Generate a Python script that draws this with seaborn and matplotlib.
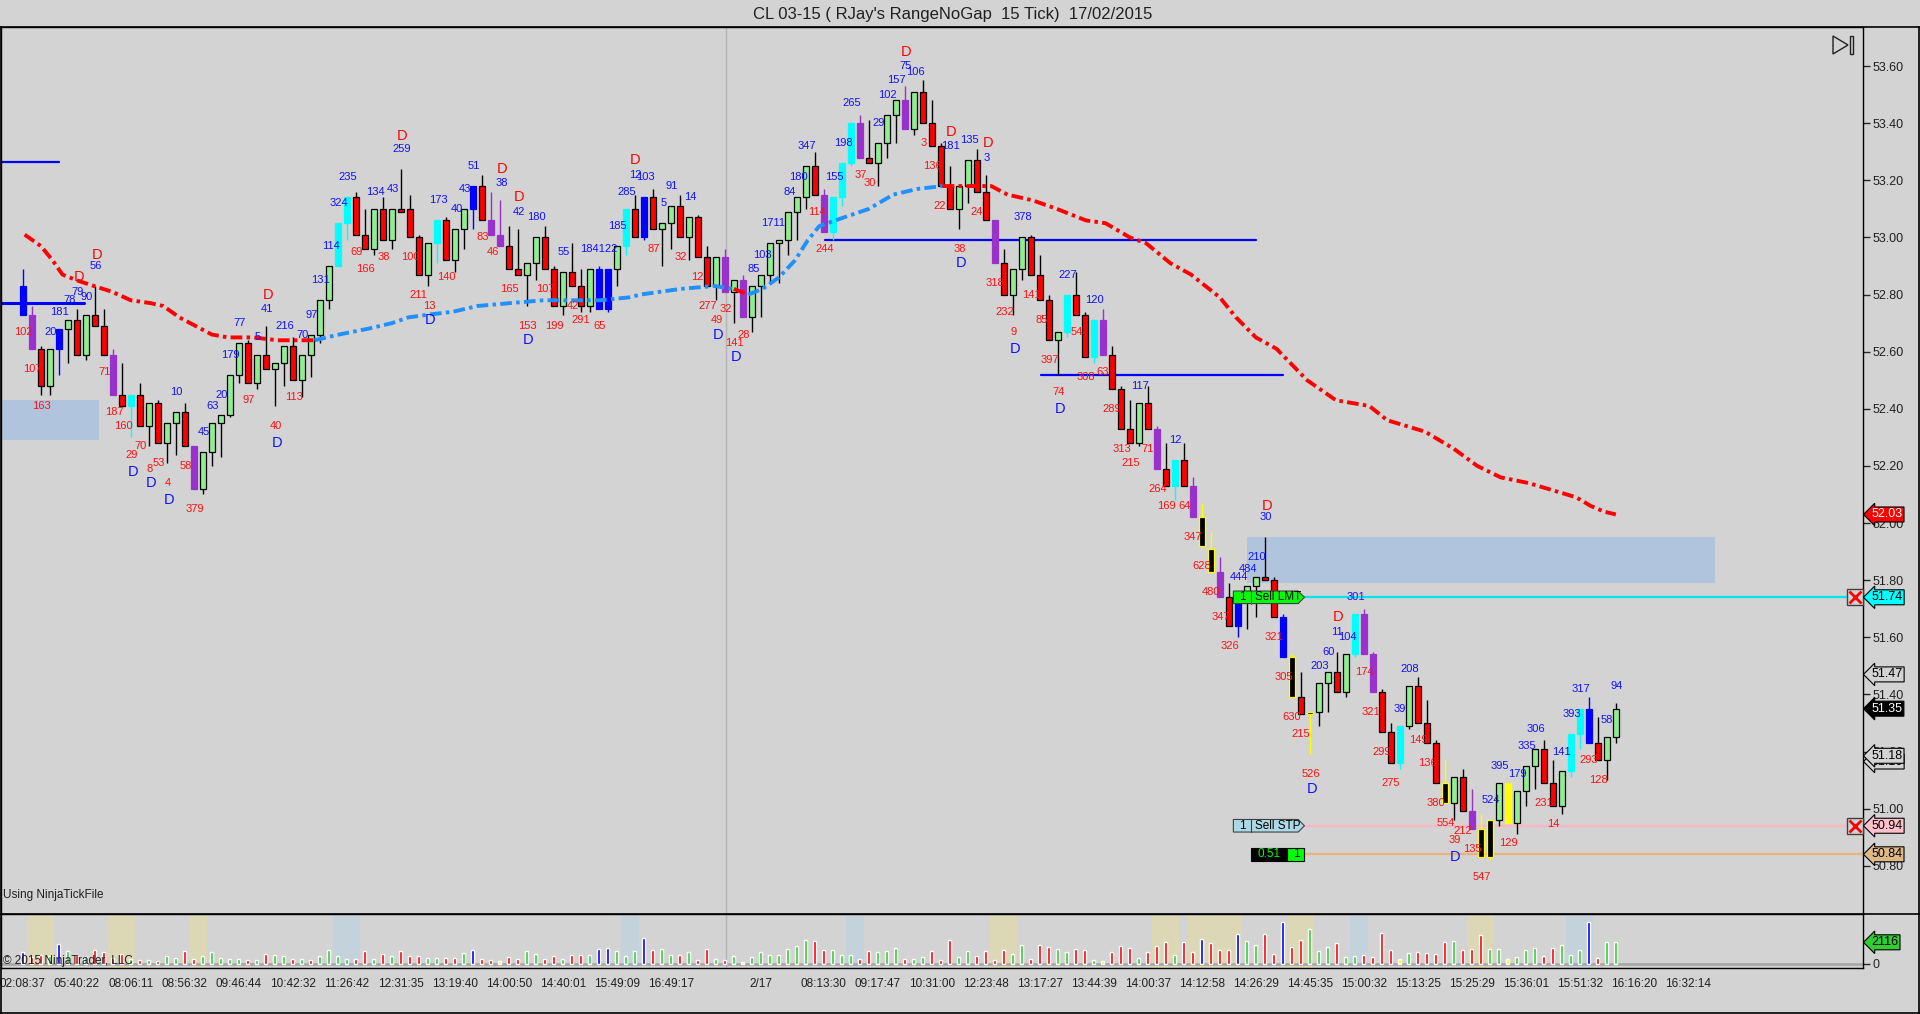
import numpy as np
import matplotlib
matplotlib.use("Agg")
import matplotlib.pyplot as plt
import matplotlib.transforms as mtransforms
from matplotlib.patches import Rectangle, Polygon
from matplotlib.lines import Line2D
import seaborn as sns

# ---- range bars (CL 03-15, 15 tick range) ----
opens = [52.83, 52.73, 52.61, 52.48, 52.61, 52.68, 52.71, 52.59, 52.73, 52.69,
         52.59, 52.45, 52.41, 52.45, 52.34, 52.42, 52.28, 52.35, 52.39, 52.27,
         52.12, 52.25, 52.35, 52.38, 52.52, 52.63, 52.49, 52.59, 52.54, 52.56,
         52.62, 52.50, 52.59, 52.66, 52.78, 52.90, 53.05, 53.14, 53.01, 52.96,
         53.10, 52.99, 53.10, 53.10, 53.00, 52.87, 52.98, 53.06, 52.92, 53.03,
         53.10, 53.18, 53.06, 53.01, 52.97, 52.89, 52.87, 52.91, 53.00, 52.89,
         52.76, 52.88, 52.83, 52.76, 52.89, 52.75, 52.89, 52.97, 53.10, 53.00,
         53.14, 53.03, 53.05, 53.11, 53.00, 53.07, 52.93, 52.83, 52.93, 52.81,
         52.85, 52.72, 52.83, 52.87, 52.98, 52.99, 53.09, 53.14, 53.25, 53.15,
         53.02, 53.14, 53.26, 53.40, 53.28, 53.26, 53.33, 53.43, 53.48, 53.38,
         53.51, 53.40, 53.32, 53.18, 53.10, 53.18, 53.27, 53.16, 53.06, 52.91,
         52.80, 52.89, 53.00, 52.87, 52.78, 52.64, 52.67, 52.80, 52.73, 52.58,
         52.71, 52.59, 52.47, 52.33, 52.28, 52.42, 52.33, 52.19, 52.13, 52.22,
         52.13, 52.02, 51.91, 51.83, 51.74, 51.64, 51.74, 51.78, 51.81, 51.80,
         51.67, 51.53, 51.39, 51.33, 51.34, 51.44, 51.48, 51.41, 51.54, 51.68,
         51.54, 51.41, 51.27, 51.16, 51.29, 51.43, 51.30, 51.23, 51.09, 51.02,
         51.11, 50.99, 50.93, 50.83, 50.96, 51.09, 50.95, 51.06, 51.15, 51.21,
         51.09, 51.01, 51.13, 51.26, 51.35, 51.23, 51.17, 51.25]
highs = [52.89, 52.76, 52.62, 52.61, 52.68, 52.71, 52.75, 52.73, 52.83, 52.75,
         52.61, 52.56, 52.45, 52.49, 52.42, 52.43, 52.35, 52.39, 52.42, 52.27,
         52.25, 52.35, 52.38, 52.52, 52.63, 52.64, 52.59, 52.69, 52.56, 52.62,
         52.65, 52.59, 52.66, 52.78, 52.90, 53.05, 53.14, 53.16, 53.10, 53.10,
         53.14, 53.10, 53.24, 53.15, 53.01, 52.98, 53.06, 53.07, 53.03, 53.10,
         53.18, 53.22, 53.16, 53.13, 53.04, 53.03, 52.91, 53.00, 53.04, 52.90,
         52.88, 52.98, 52.89, 52.89, 52.90, 52.89, 52.97, 53.10, 53.15, 53.14,
         53.17, 53.05, 53.11, 53.15, 53.07, 53.08, 52.97, 52.93, 52.96, 52.85,
         52.87, 52.83, 52.87, 52.98, 52.99, 53.09, 53.14, 53.25, 53.30, 53.17,
         53.14, 53.26, 53.40, 53.43, 53.41, 53.33, 53.43, 53.48, 53.53, 53.51,
         53.55, 53.48, 53.33, 53.25, 53.18, 53.27, 53.31, 53.22, 53.06, 52.96,
         52.89, 53.00, 53.01, 52.94, 52.80, 52.67, 52.80, 52.88, 52.74, 52.71,
         52.75, 52.62, 52.48, 52.43, 52.42, 52.48, 52.34, 52.28, 52.22, 52.28,
         52.16, 52.07, 51.97, 51.88, 51.79, 51.74, 51.78, 51.81, 51.95, 51.81,
         51.68, 51.54, 51.48, 51.34, 51.44, 51.48, 51.55, 51.54, 51.68, 51.70,
         51.55, 51.42, 51.30, 51.29, 51.43, 51.46, 51.38, 51.24, 51.17, 51.11,
         51.14, 51.07, 50.98, 50.96, 51.09, 51.09, 51.06, 51.15, 51.21, 51.24,
         51.17, 51.13, 51.26, 51.35, 51.39, 51.32, 51.25, 51.37]
lows = [52.73, 52.61, 52.45, 52.45, 52.52, 52.56, 52.59, 52.57, 52.69, 52.59,
        52.45, 52.41, 52.30, 52.34, 52.27, 52.28, 52.21, 52.24, 52.27, 52.12,
        52.10, 52.20, 52.23, 52.37, 52.49, 52.49, 52.47, 52.54, 52.41, 52.48,
        52.50, 52.44, 52.51, 52.63, 52.75, 52.90, 52.99, 53.01, 52.96, 52.94,
        52.99, 52.96, 53.09, 53.00, 52.87, 52.83, 52.91, 52.92, 52.88, 52.96,
        53.03, 53.06, 53.01, 52.97, 52.89, 52.87, 52.76, 52.85, 52.89, 52.76,
        52.73, 52.83, 52.74, 52.74, 52.75, 52.74, 52.83, 52.94, 53.00, 52.99,
        53.03, 52.90, 52.96, 53.00, 52.92, 52.93, 52.83, 52.78, 52.81, 52.70,
        52.72, 52.67, 52.72, 52.84, 52.84, 52.94, 52.99, 53.10, 53.15, 53.02,
        52.99, 53.11, 53.25, 53.28, 53.26, 53.18, 53.28, 53.33, 53.38, 53.36,
        53.40, 53.32, 53.18, 53.10, 53.03, 53.12, 53.16, 53.06, 52.91, 52.80,
        52.73, 52.85, 52.87, 52.78, 52.64, 52.52, 52.65, 52.73, 52.58, 52.56,
        52.59, 52.47, 52.33, 52.28, 52.27, 52.33, 52.19, 52.13, 52.08, 52.13,
        52.02, 51.92, 51.83, 51.74, 51.64, 51.60, 51.63, 51.67, 51.80, 51.67,
        51.53, 51.39, 51.33, 51.19, 51.29, 51.34, 51.41, 51.39, 51.53, 51.54,
        51.41, 51.27, 51.16, 51.14, 51.28, 51.30, 51.23, 51.09, 51.02, 50.96,
        50.99, 50.93, 50.83, 50.82, 50.94, 50.95, 50.91, 51.01, 51.07, 51.09,
        51.01, 50.98, 51.11, 51.21, 51.23, 51.17, 51.10, 51.23]
closes = [52.73, 52.61, 52.48, 52.61, 52.68, 52.71, 52.59, 52.73, 52.69, 52.59,
          52.45, 52.41, 52.45, 52.34, 52.42, 52.28, 52.35, 52.39, 52.27, 52.12,
          52.25, 52.35, 52.38, 52.52, 52.63, 52.49, 52.59, 52.54, 52.56, 52.62,
          52.50, 52.59, 52.66, 52.78, 52.90, 53.05, 53.14, 53.01, 52.96, 53.10,
          52.99, 53.10, 53.09, 53.00, 52.87, 52.98, 53.06, 52.92, 53.03, 53.10,
          53.18, 53.06, 53.01, 52.97, 52.89, 52.87, 52.91, 53.00, 52.89, 52.76,
          52.88, 52.83, 52.76, 52.89, 52.75, 52.89, 52.97, 53.10, 53.00, 53.14,
          53.03, 53.05, 53.11, 53.00, 53.07, 52.93, 52.83, 52.93, 52.81, 52.85,
          52.72, 52.83, 52.87, 52.98, 52.99, 53.09, 53.14, 53.25, 53.15, 53.02,
          53.14, 53.26, 53.40, 53.28, 53.26, 53.33, 53.43, 53.48, 53.38, 53.51,
          53.40, 53.32, 53.18, 53.10, 53.18, 53.27, 53.16, 53.06, 52.91, 52.80,
          52.89, 53.00, 52.87, 52.78, 52.64, 52.67, 52.80, 52.73, 52.58, 52.71,
          52.59, 52.47, 52.33, 52.28, 52.42, 52.33, 52.19, 52.13, 52.22, 52.13,
          52.02, 51.92, 51.83, 51.74, 51.64, 51.74, 51.78, 51.81, 51.80, 51.67,
          51.53, 51.39, 51.33, 51.34, 51.44, 51.48, 51.41, 51.54, 51.68, 51.54,
          51.41, 51.27, 51.16, 51.29, 51.43, 51.30, 51.23, 51.09, 51.02, 51.11,
          50.99, 50.93, 50.83, 50.96, 51.09, 50.95, 51.06, 51.15, 51.21, 51.09,
          51.01, 51.13, 51.26, 51.35, 51.23, 51.17, 51.25, 51.35]
# paint colour of every bar: g up, r down, c/b/p/k/y painted bars
bar_paint = ("bprgbgrgrr" "prcrgrggrp" "gggggrgrgg" "rggggccrrg" "rgrrrgcrgg"
             "brpprrggrr" "grrgbbgcrb" "rggrgrrgpg" "pgggggggrp" "cccprgggpg"
             "rrrrggrrpr" "ggrrrgcrrc" "prrrgrprcr" "pkkprbggrr" "bkrkggrgcp"
             "prrcgrrrkg" "rpkkgygggr" "rgccbrgg")

volumes = [1140, 640, 900, 810, 1980, 1300, 880, 650, 1400, 1200,
           600, 1010, 490, 420, 420, 260, 810, 590, 1240, 520,
           750, 1140, 590, 520, 520, 360, 360, 1010, 910, 750,
           460, 520, 420, 810, 1400, 750, 520, 520, 1240, 520,
           1010, 750, 1240, 750, 750, 590, 550, 590, 590, 1070,
           1400, 520, 360, 330, 650, 520, 1240, 1010, 490, 750,
           460, 910, 910, 910, 1500, 1590, 1300, 750, 1240, 2540,
           1400, 1460, 910, 850, 1140, 420, 1500, 520, 360, 810,
           160, 650, 1140, 910, 910, 1500, 1790, 2370, 2210, 1400,
           1400, 910, 910, 520, 1300, 1140, 1300, 1590, 520, 520,
           650, 1240, 420, 2370, 650, 1240, 810, 1240, 420, 1400,
           1010, 1820, 520, 1890, 1660, 1500, 1140, 1500, 1400, 420,
           330, 1140, 1790, 1590, 620, 1140, 1790, 2180, 910, 2180,
           1140, 2470, 2080, 1400, 1400, 2960, 2280, 1890, 2960, 1010,
           4060, 1690, 2370, 3450, 1300, 1690, 2050, 720, 810, 910,
           720, 3060, 1400, 520, 1110, 1200, 1110, 1010, 2180, 2280,
           1400, 1500, 2860, 1500, 1500, 520, 720, 1400, 1590, 810,
           1590, 1890, 910, 1400, 4130, 620, 2110, 2116]
vol_paint = ("brrgbgrgrr" "rrgrgrggrr" "gggggrgrgg" "rgrggggrrg" "rgrrrggrrg"
             "brryrrggrr" "grrgbbgggb" "rggrgrrgrg" "ygggggggrr" "gggrrgggrg"
             "grrrggrrrr" "ggrrrggrrg" "yrrrgrrrgr" "rbrrrbggrr" "brrgggrggr"
             "rrrygrrrrg" "rrrggygggr" "rgggbrgg")

# shaded bar groups in the volume panel (first bar, last bar, kind)
band_first = [1, 10, 19, 35, 67, 92, 108, 126, 130, 141, 148, 161, 172]
band_last = [3, 12, 20, 37, 68, 93, 110, 128, 135, 143, 149, 163, 174]
band_kind = "yyybbbyyyybyb"

# moving average, read at bar positions; side r = above price, b = below
ma_x = [0.2, 2.0, 3.3, 4.4, 6.0, 7.9, 9.9, 12.0, 14.2, 15.6,
        17.4, 19.2, 21.0, 22.8, 25.6, 28.3, 31.5, 32.4, 35.1, 38.3,
        41.0, 42.8, 45.1, 47.8, 50.5, 54.1, 57.8, 60.9, 64.1, 67.3,
        68.6, 73.1, 76.8, 79.0, 80.6, 82.2, 84.0, 85.8, 87.2, 88.5,
        91.2, 94.0, 96.7, 99.4, 102.2, 104.9, 107.6, 109.4, 112.2, 114.9,
        118.1, 120.3, 123.0, 124.8, 127.5, 129.8, 133.0, 134.8, 137.0, 139.3,
        142.7, 145.9, 149.6, 151.6, 155.8, 159.0, 161.6, 164.2, 167.3, 170.5,
        172.6, 174.2, 175.7, 177.0]
ma_y = [53.01, 52.97, 52.92, 52.87, 52.85, 52.83, 52.81, 52.78, 52.77, 52.76,
        52.72, 52.69, 52.66, 52.65, 52.65, 52.64, 52.64, 52.64, 52.66, 52.68,
        52.70, 52.72, 52.73, 52.74, 52.76, 52.77, 52.78, 52.78, 52.78, 52.79,
        52.80, 52.82, 52.83, 52.82, 52.80, 52.82, 52.86, 52.92, 52.99, 53.04,
        53.07, 53.10, 53.15, 53.17, 53.18, 53.18, 53.18, 53.15, 53.13, 53.10,
        53.06, 53.05, 53.00, 52.98, 52.91, 52.87, 52.79, 52.72, 52.65, 52.61,
        52.50, 52.43, 52.41, 52.36, 52.32, 52.26, 52.20, 52.16, 52.14, 52.11,
        52.09, 52.06, 52.04, 52.03]
ma_side = ("rrrrrrrrrrrrrrrrr" "bbbbbbbbbbbbbbbb" "r" "bbbbbbbbbb"
           "rrrrrrrrrrrrrrrrrrrrrrrrrrrrrr")

# drawn objects
hline_price = [53.265, 52.77, 52.99, 52.52]
hline_from = [-2.5, -2.5, 89.1, 113.1]
hline_to = [4.0, 6.8, 137.0, 140.0]
zone_from = [-2.5, 136.0]
zone_to = [8.5, 188.0]
zone_low = [52.29, 51.79]
zone_high = [52.43, 51.95]
sell_lmt, sell_stp, entry = 51.74, 50.94, 50.84

# swing labels (text, bar position, price)
blue_nums = [("56", 8.1, 52.90), ("79", 6.1, 52.81), ("78", 5.2, 52.78), ("90", 7.1, 52.79),
             ("181", 4.1, 52.74), ("20", 3.1, 52.67), ("77", 24.1, 52.70), ("41", 27.1, 52.75),
             ("5", 26.1, 52.65), ("216", 29.1, 52.69), ("70", 31.1, 52.66), ("179", 23.1, 52.59),
             ("20", 22.1, 52.45), ("63", 21.1, 52.41), ("45", 20.1, 52.32), ("10", 17.1, 52.46),
             ("97", 32.1, 52.73), ("131", 33.1, 52.85), ("114", 34.2, 52.97), ("324", 35.1, 53.12),
             ("235", 36.1, 53.21), ("134", 39.2, 53.16), ("43", 41.1, 53.17), ("259", 42.1, 53.31),
             ("173", 46.2, 53.13), ("40", 48.2, 53.10), ("43", 49.1, 53.17), ("51", 50.1, 53.25),
             ("38", 53.2, 53.19), ("42", 55.1, 53.09), ("180", 57.1, 53.07), ("55", 60.1, 52.95),
             ("184122", 64.0, 52.96), ("185", 66.1, 53.04), ("285", 67.1, 53.16), ("12", 68.0, 53.22),
             ("103", 69.2, 53.21), ("91", 72.1, 53.18), ("5", 71.2, 53.12), ("14", 74.2, 53.14),
             ("85", 81.2, 52.89), ("103", 82.2, 52.94), ("1711", 83.4, 53.05), ("84", 85.2, 53.16),
             ("180", 86.2, 53.21), ("347", 87.1, 53.32), ("155", 90.2, 53.21), ("198", 91.2, 53.33),
             ("265", 92.1, 53.47), ("29", 95.1, 53.40), ("102", 96.1, 53.50), ("157", 97.1, 53.55),
             ("75", 98.1, 53.60), ("106", 99.2, 53.58), ("181", 103.1, 53.32), ("135", 105.2, 53.34),
             ("3", 107.1, 53.28), ("378", 111.1, 53.07), ("227", 116.1, 52.87), ("120", 119.1, 52.78),
             ("117", 124.1, 52.48), ("12", 128.1, 52.29), ("30", 138.1, 52.02), ("210", 137.1, 51.88),
             ("484", 136.1, 51.84), ("444", 135.1, 51.81), ("301", 148.1, 51.74), ("11", 146.0, 51.62),
             ("104", 147.2, 51.60), ("60", 145.1, 51.55), ("203", 144.1, 51.50), ("208", 154.1, 51.49),
             ("39", 153.0, 51.35), ("395", 164.1, 51.15), ("179", 166.1, 51.12), ("524", 163.1, 51.03),
             ("306", 168.1, 51.28), ("335", 167.1, 51.22), ("141", 171.0, 51.20), ("317", 173.1, 51.42),
             ("393", 172.1, 51.33), ("58", 176.0, 51.31), ("94", 177.1, 51.43)]
red_nums = [("102", 0.1, 52.67), ("107", 1.1, 52.54), ("163", 2.1, 52.41), ("71", 9.1, 52.53),
            ("187", 10.2, 52.39), ("160", 11.2, 52.34), ("70", 13.1, 52.27), ("29", 12.1, 52.24),
            ("8", 14.1, 52.19), ("53", 15.1, 52.21), ("4", 16.1, 52.14), ("58", 18.1, 52.20),
            ("379", 19.1, 52.05), ("97", 25.1, 52.43), ("113", 30.1, 52.44), ("40", 28.1, 52.34),
            ("69", 37.1, 52.95), ("166", 38.1, 52.89), ("38", 40.1, 52.93), ("100", 43.0, 52.93),
            ("211", 44.0, 52.80), ("13", 45.2, 52.76), ("140", 47.1, 52.86), ("83", 51.1, 53.00),
            ("46", 52.2, 52.95), ("165", 54.1, 52.82), ("107", 58.1, 52.82), ("42", 61.1, 52.76),
            ("153", 56.1, 52.69), ("199", 59.1, 52.69), ("291", 62.0, 52.71), ("65", 64.1, 52.69),
            ("87", 70.1, 52.96), ("32", 73.1, 52.93), ("12", 74.9, 52.86), ("277", 76.1, 52.76),
            ("32", 78.1, 52.75), ("49", 77.1, 52.71), ("141", 79.1, 52.63), ("28", 80.1, 52.66),
            ("114", 88.2, 53.09), ("244", 89.1, 52.96), ("37", 93.1, 53.22), ("30", 94.1, 53.19),
            ("3", 100.1, 53.33), ("136", 101.1, 53.25), ("22", 101.9, 53.11), ("24", 106.0, 53.09),
            ("38", 104.1, 52.96), ("318", 108.0, 52.84), ("232", 109.1, 52.74), ("9", 110.1, 52.67),
            ("141", 112.1, 52.80), ("85", 113.2, 52.71), ("54", 117.1, 52.67), ("397", 114.1, 52.57),
            ("308", 118.1, 52.51), ("63", 120.0, 52.53), ("74", 115.1, 52.46), ("289", 121.0, 52.40),
            ("313", 122.1, 52.26), ("71", 125.0, 52.26), ("215", 123.1, 52.21), ("264", 126.1, 52.12),
            ("169", 127.1, 52.06), ("64", 129.1, 52.06), ("347", 130.0, 51.95), ("628", 131.0, 51.85),
            ("480", 132.0, 51.76), ("347", 133.1, 51.67), ("326", 134.1, 51.57), ("321", 139.0, 51.60),
            ("305", 140.1, 51.46), ("630", 141.0, 51.32), ("215", 142.0, 51.26), ("526", 143.1, 51.12),
            ("174", 149.0, 51.48), ("321", 149.8, 51.34), ("299", 151.0, 51.20), ("275", 152.0, 51.09),
            ("149", 155.0, 51.24), ("136", 156.1, 51.16), ("380", 157.0, 51.02), ("554", 158.1, 50.95),
            ("212", 160.0, 50.92), ("39", 159.1, 50.89), ("135", 161.1, 50.86), ("547", 162.1, 50.76),
            ("129", 165.1, 50.88), ("231", 169.0, 51.02), ("14", 170.1, 50.945), ("293", 174.0, 51.17),
            ("128", 175.1, 51.10)]
red_d = [(8.2, 52.94), (6.2, 52.86), (27.2, 52.80), (42.1, 53.355), (53.2, 53.24), (55.1, 53.14),
         (68.0, 53.27), (98.1, 53.65), (103.1, 53.37), (107.2, 53.33), (138.2, 52.06), (146.1, 51.67)]
blue_d = [(12.2, 52.18), (14.2, 52.14), (16.2, 52.08), (28.2, 52.28), (45.2, 52.71), (56.1, 52.64),
          (77.2, 52.66), (79.2, 52.58), (104.2, 52.91), (110.2, 52.61), (115.2, 52.40), (143.2, 51.07),
          (159.1, 50.83)]

tick_pos = [0, 6, 12, 18, 24, 30, 36, 42, 48, 54, 60, 66, 72, 82, 89, 95, 101, 107, 113,
            119, 125, 131, 137, 143, 149, 155, 161, 167, 173, 179, 185]
tick_labels = ["02:08:37", "05:40:22", "08:06:11", "08:56:32", "09:46:44", "10:42:32", "11:26:42",
               "12:31:35", "13:19:40", "14:00:50", "14:40:01", "15:49:09", "16:49:17", "2/17",
               "08:13:30", "09:17:47", "10:31:00", "12:23:48", "13:17:27", "13:44:39", "14:00:37",
               "14:12:58", "14:26:29", "14:45:35", "15:00:32", "15:13:25", "15:25:29", "15:36:01",
               "15:51:32", "16:16:20", "16:32:14"]

BG = "#D3D3D3"
sns.set_style("white")
plt.rcParams["font.family"] = ["Liberation Sans", "DejaVu Sans"]

fill = {"g": "#90EE90", "r": "#FF0000", "c": "#00FFFF", "b": "#0000FF",
        "p": "#9932CC", "k": "#000000", "y": "#FFFF00"}
edge = {"g": "black", "r": "black", "c": "#00FFFF", "b": "#0000FF",
        "p": "#9932CC", "k": "#FFFF00", "y": "#FFFF00"}
vcol = {"g": "#32CD32", "r": "#FF0000", "b": "#0000FF", "y": "#FFFF00"}

W, H = 1920, 1014
fig = plt.figure(figsize=(W / 100, H / 100), dpi=100, facecolor=BG)
ax = fig.add_axes([1 / W, 1 - 914 / H, 1862 / W, 887 / H], facecolor=BG)
axv = fig.add_axes([1 / W, 1 - 968 / H, 1862 / W, 54 / H], facecolor=BG, sharex=ax)

x = np.arange(len(opens))
o, h, l, c = map(np.array, (opens, highs, lows, closes))

# zones and drawn lines
for a, b, lo, hi in zip(zone_from, zone_to, zone_low, zone_high):
    ax.add_patch(Rectangle((a, lo), b - a, hi - lo, fc="#B0C4DE", ec="none", zorder=1))
for p, a, b, lw in zip(hline_price, hline_from, hline_to, [1.6, 2.2, 1.6, 1.6]):
    ax.plot([a, b], [p, p], color="#0000FF", lw=lw, zorder=2)

ax.axvline(78.1, color="#B4B4B4", lw=1, zorder=0.5)
axv.axvline(78.1, color="#B4B4B4", lw=1, zorder=0.5)

# candles
ax.vlines(x, l, h, colors=[edge[k] if k != "g" and k != "r" else "black" for k in bar_paint],
          lw=1, zorder=3)
body_lo = np.minimum(o, c)
body_h = np.maximum(np.abs(c - o), 0.004)
ax.bar(x, body_h, bottom=body_lo, width=0.62,
       color=[fill[k] for k in bar_paint], edgecolor=[edge[k] for k in bar_paint],
       linewidth=0.9, zorder=4)

# moving average, coloured by side
ls = (0, (3, 1.1, 0.9, 1.1))
k0 = 0
for k in range(1, len(ma_x)):
    if k == len(ma_x) - 1 or ma_side[k] != ma_side[k0]:
        sns.lineplot(x=ma_x[k0:k + 1], y=ma_y[k0:k + 1], ax=ax,
                     color="#FF0000" if ma_side[k0] == "r" else "#1E90FF",
                     linewidth=2.8, linestyle=ls, zorder=5)
        k0 = k

# labels
for t, bx, p in blue_nums:
    ax.text(bx, p, t, color="#1010FF", fontsize=8, ha="center", va="center", zorder=6)
for t, bx, p in red_nums:
    ax.text(bx, p, t, color="#FF1010", fontsize=8, ha="center", va="center", zorder=6)
for bx, p in red_d:
    ax.text(bx, p, "D", color="#FF0000", fontsize=10.5, ha="center", va="center", zorder=6)
for bx, p in blue_d:
    ax.text(bx, p, "D", color="#1010FF", fontsize=10.5, ha="center", va="center", zorder=6)

# order lines
ax.plot([142.4, 203.0], [sell_lmt] * 2, color="#00E5EE", lw=1.6, zorder=2)
ax.plot([142.4, 203.0], [sell_stp] * 2, color="#FFB6C1", lw=1.6, zorder=2)
ax.plot([142.4, 204.5], [entry] * 2, color="#E8B47C", lw=1.6, zorder=2)
hh = 0.022
for p, fc, txt in [(sell_lmt, "#00FF00", "Sell LMT"), (sell_stp, "#ADD8E6", "Sell STP")]:
    ax.add_patch(Polygon([(134.5, p - hh), (141.7, p - hh), (142.4, p), (141.7, p + hh),
                          (134.5, p + hh)], closed=True, fc=fc, ec="#404040", lw=0.8, zorder=7))
    ax.plot([136.5, 136.5], [p - hh, p + hh], color="#404040", lw=0.8, zorder=7)
    ax.text(135.5, p, "1", fontsize=8.5, ha="center", va="center", color="black", zorder=8)
    ax.text(136.9, p, txt, fontsize=8.5, ha="left", va="center", color="black", zorder=8)
ax.add_patch(Rectangle((136.5, entry - hh), 4.0, 2 * hh, fc="black", ec="black", lw=0.8, zorder=7))
ax.add_patch(Rectangle((140.5, entry - hh), 1.9, 2 * hh, fc="#00FF00", ec="black", lw=0.8, zorder=7))
ax.text(138.5, entry, "0.51", fontsize=8.5, ha="center", va="center", color="#00FF00", zorder=8)
ax.text(141.45, entry, "1", fontsize=8.5, ha="center", va="center", color="black", zorder=8)
for p in (sell_lmt, sell_stp):
    ax.plot(203.6, p, marker="s", ms=11, mfc=BG, mec="#404040", mew=1, zorder=8, clip_on=False)
    ax.plot(203.6, p, marker="x", ms=8, mec="#FF0000", mew=2, zorder=9, clip_on=False)

# volume
axv.axhline(0, color="#A9A9A9", lw=2, zorder=1)
for a, b, k in zip(band_first, band_last, band_kind):
    axv.axvspan(a - 0.5, b + 0.5, color="#DCD8B6" if k == "y" else "#C4D2DC", lw=0, zorder=0.4)
axv.bar(x, volumes, width=0.36, color=[vcol[k] for k in vol_paint], zorder=2)

# axes styling
ax.set_xlim(-2.43, 204.46)
ax.set_ylim(50.631, 53.737)
axv.set_ylim(-390, 4875)
for a_ in (ax, axv):
    for s in a_.spines.values():
        s.set_color("black")
        s.set_linewidth(1)
ax.spines["bottom"].set_visible(False)
ax.yaxis.tick_right()
ax.set_yticks(np.arange(50.8, 53.61, 0.2))
ax.set_yticklabels([f"{v:.2f}" for v in np.arange(50.8, 53.61, 0.2)])
ax.tick_params(axis="y", which="both", right=True, left=False, direction="out", length=5,
               width=1, labelsize=9, pad=2, labelcolor="#202020")
ax.tick_params(axis="x", bottom=False, labelbottom=False)
axv.yaxis.tick_right()
axv.set_yticks([0])
axv.set_yticklabels(["0"])
axv.tick_params(axis="y", direction="out", length=5, width=1, labelsize=9, pad=2)
axv.set_xticks(tick_pos)
axv.set_xticklabels(tick_labels)
axv.tick_params(axis="x", direction="out", length=4, width=1, labelsize=8.5, pad=3,
                labelcolor="#202020")
ax.set_xlabel("")
ax.set_ylabel("")

# right-axis price tags
def tag(axis, y, txt, fc, tc, ec="black"):
    tr = mtransforms.blended_transform_factory(axis.transAxes, axis.transData)
    axis.text(1.0045, y, txt, transform=tr, fontsize=9, color=tc, va="center", ha="left",
              bbox=dict(boxstyle="larrow,pad=0.12", fc=fc, ec=ec, lw=0.8),
              clip_on=False, zorder=20)

tag(ax, 52.03, "52.03", "#FF0000", "white")
tag(ax, 51.74, "51.74", "#00FFFF", "black")
tag(ax, 51.47, "51.47", BG, "black")
tag(ax, 51.35, "51.35", "black", "white")
tag(ax, 51.165, "51.16", BG, "black")
tag(ax, 51.185, "51.18", BG, "black")
tag(ax, 50.94, "50.94", "#FFC0CB", "black")
tag(ax, 50.84, "50.84", "#DEB887", "black")
tag(axv, 2116, "2116", "#32CD32", "black")

# frame and texts
def px(a, b):
    return (a / W, 1 - b / H)

for (x1, y1), (x2, y2) in [((0, 27), (1920, 27)), ((0, 914), (1920, 914)),
                           ((0.5, 27), (0.5, 1013)), ((0, 1013), (1920, 1013)),
                           ((1919, 27), (1919, 1013))]:
    p1, p2 = px(x1, y1), px(x2, y2)
    fig.add_artist(Line2D([p1[0], p2[0]], [p1[1], p2[1]], color="black", lw=1.2,
                          transform=fig.transFigure))
fig.add_artist(Polygon([px(1833, 36), px(1848, 45), px(1833, 54)], closed=True, fill=False,
                       ec="#202020", lw=1, transform=fig.transFigure))
fig.add_artist(Rectangle(px(1850, 54), 3 / W, 18 / H, fill=False, ec="#202020", lw=1,
                         transform=fig.transFigure))

fig.text(953 / W, 1 - 14 / H, "CL 03-15 ( RJay's RangeNoGap  15 Tick)  17/02/2015",
         ha="center", va="center", fontsize=12, color="#202020")
fig.text(3 / W, 1 - 895 / H, "Using NinjaTickFile", ha="left", va="center", fontsize=8.5,
         color="#202020")
fig.text(3 / W, 1 - 961 / H, "\u00a9 2015 NinjaTrader, LLC", ha="left", va="center",
         fontsize=8.5, color="#202020", zorder=30)

fig.savefig("out.png", dpi=100, facecolor=BG)
